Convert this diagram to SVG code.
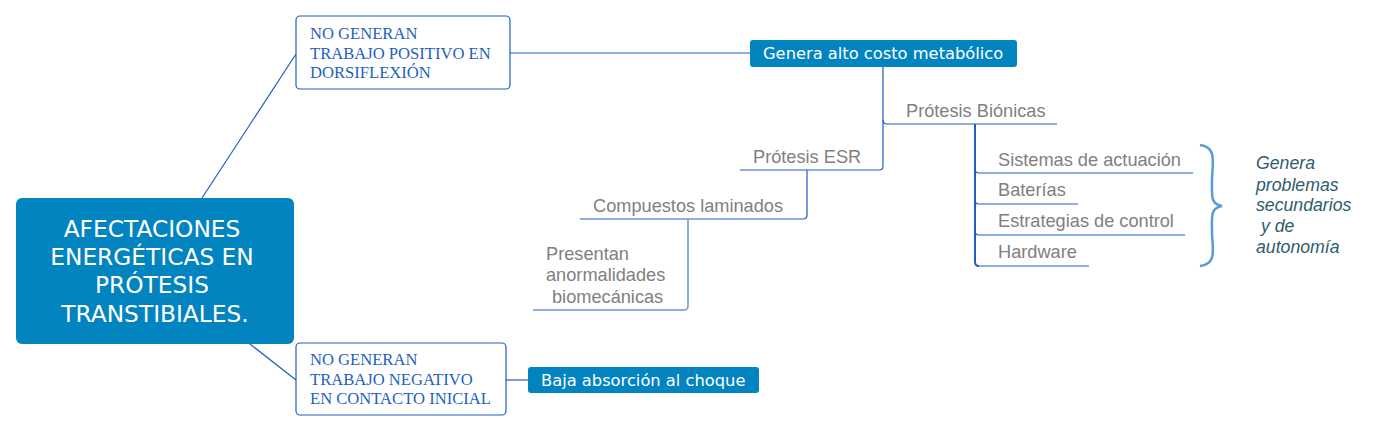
<svg xmlns="http://www.w3.org/2000/svg" width="1395" height="432" viewBox="0 0 1395 432">
<style>
.ln{fill:none;stroke:#1f5fbf;stroke-width:1.2}
.ln2{fill:none;stroke:#1f5fbf;stroke-width:2}
.lnl{fill:none;stroke:#6a9fd8;stroke-width:1.6}
.fill{fill:#0284c0}
.wt{fill:#ffffff;font-family:"DejaVu Sans",sans-serif}
.box{fill:#ffffff;stroke:#1f5fbf;stroke-width:1.2}
.sf{fill:#1f5fbf;font-family:"Liberation Serif",serif;font-size:16.6px}
.gr{fill:#808080;font-family:"Liberation Sans",Arial,sans-serif;font-size:18.2px}
.it{fill:#2f5d6e;font-family:"Liberation Sans",Arial,sans-serif;font-size:17.7px;font-style:italic}
</style>
<rect width="1395" height="432" fill="#ffffff"/>
<g id="connectors">
<line class="ln" x1="202" y1="198" x2="296" y2="54"/>
<line class="ln" x1="250" y1="344" x2="296" y2="380"/>
<line class="ln" x1="510" y1="53" x2="750" y2="53"/>
<line class="ln" x1="506" y1="380" x2="528" y2="380"/>
<path class="ln" d="M883 67 V120 Q883 124 887 124 H1057"/>
<path class="ln" d="M883 120 V166 Q883 170 879 170 H740"/>
<path class="ln" d="M807 170 V215 Q807 219 803 219 H580"/>
<path class="lnl" d="M688 219 V306 Q688 310 684 310"/>
<path class="ln" d="M684 310 H533"/>
<path class="ln2" d="M975 124 V262 Q975 266 979 266"/>
<path class="ln" d="M975 169 Q975 173 979 173 H1193"/>
<path class="ln" d="M975 200 Q975 204 979 204 H1078"/>
<path class="ln" d="M975 231 Q975 235 979 235 H1185"/>
<path class="ln" d="M979 266 H1089"/>
<path d="M1200 145 C1218 147 1212 165 1212 180 C1212 195 1210 204 1222 206 C1210 208 1212 217 1212 232 C1212 247 1218 264 1200 266" fill="none" stroke="#5b9bd5" stroke-width="2.5"/>
</g>
<g id="central">
<rect class="fill" x="16" y="198" width="278" height="146" rx="6"/>
<text class="wt" font-size="23.3" text-anchor="middle"><tspan x="152" y="237">AFECTACIONES</tspan><tspan x="152" y="265">ENERGÉTICAS EN</tspan><tspan x="152" y="293">PRÓTESIS</tspan><tspan x="155" y="322">TRANSTIBIALES.</tspan></text>
</g>
<g id="no-positivo">
<rect class="box" x="296" y="16" width="214" height="73" rx="4"/>
<text class="sf"><tspan x="310" y="39">NO GENERAN</tspan><tspan x="310" y="59">TRABAJO POSITIVO EN</tspan><tspan x="310" y="78">DORSIFLEXIÓN</tspan></text>
</g>
<g id="no-negativo">
<rect class="box" x="296" y="343" width="210" height="72" rx="4"/>
<text class="sf"><tspan x="310" y="365">NO GENERAN</tspan><tspan x="310" y="385">TRABAJO NEGATIVO</tspan><tspan x="310" y="404">EN CONTACTO INICIAL</tspan></text>
</g>
<g id="costo">
<rect class="fill" x="750" y="40" width="267" height="27" rx="3"/>
<text class="wt" font-size="16.3" x="763" y="59">Genera alto costo metabólico</text>
</g>
<g id="baja">
<rect class="fill" x="528" y="367" width="231" height="26" rx="3"/>
<text class="wt" font-size="16.3" x="541" y="386">Baja absorción al choque</text>
</g>
<g id="bionicas"><text class="gr" x="906" y="117">Prótesis Biónicas</text></g>
<g id="esr"><text class="gr" x="753" y="163">Prótesis ESR</text></g>
<g id="compuestos"><text class="gr" x="593" y="212">Compuestos laminados</text></g>
<g id="presentan"><text class="gr"><tspan x="546" y="260">Presentan</tspan><tspan x="546" y="281">anormalidades</tspan><tspan x="552" y="303">biomecánicas</tspan></text></g>
<g id="sistemas"><text class="gr" x="998" y="166">Sistemas de actuación</text></g>
<g id="baterias"><text class="gr" x="998" y="196">Baterías</text></g>
<g id="estrategias"><text class="gr" x="998" y="227">Estrategias de control</text></g>
<g id="hardware"><text class="gr" x="998" y="258">Hardware</text></g>
<g id="problemas"><text class="it"><tspan x="1256" y="169">Genera</tspan><tspan x="1256" y="191">problemas</tspan><tspan x="1256" y="211">secundarios</tspan><tspan x="1256" y="232" xml:space="preserve"> y de</tspan><tspan x="1256" y="253">autonomía</tspan></text></g>
</svg>
